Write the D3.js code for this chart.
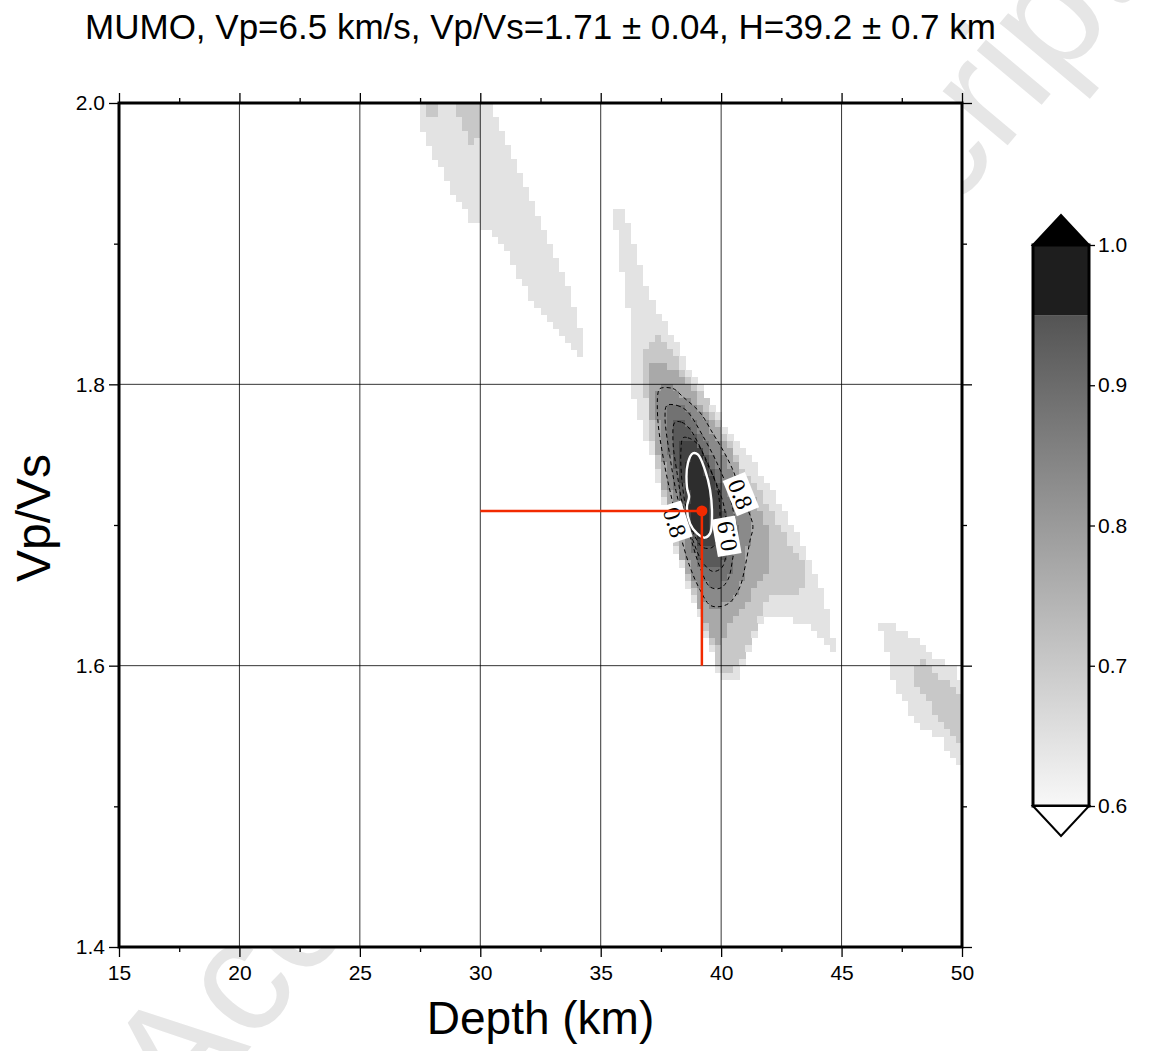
<!DOCTYPE html>
<html>
<head>
<meta charset="utf-8">
<script src="https://cdn.jsdelivr.net/npm/d3@7"></script>
<style>
  body { margin: 0; background: #fff; }
  text { font-family: "Liberation Sans", Arial, Helvetica, sans-serif; }
</style>
</head>
<body>
<svg id="chart" width="1150" height="1051"></svg>
<script>

// ---- data ----
var stationName = "MUMO";
var vpValue = 6.5;
var bestH = 39.2, errH = 0.7;
var bestK = 1.71, errK = 0.04;

var depthDomain = [15, 50];
var vpvsDomain = [1.4, 2.0];
var depthTicks = [15, 20, 25, 30, 35, 40, 45, 50];
var depthMinor = [17.5, 22.5, 27.5, 32.5, 37.5, 42.5, 47.5];
var vpvsTicks = [1.4, 1.6, 1.8, 2.0];
var vpvsMinor = [1.5, 1.7, 1.9];
var depthGrid = [20, 25, 30, 35, 40, 45];
var vpvsGrid = [1.6, 1.8];
var gridStepH = 0.25, gridStepK = 0.005;   // search grid spacing (km, Vp/Vs)

var cbTicks = [0.6, 0.7, 0.8, 0.9, 1.0];
var cbBreak = 0.95;

// stack amplitude bands (depth km, Vp/Vs) -- outlines of each grey level
var bandNW = [[27.33,2.005],[27.50,1.988],[27.91,1.970],[28.66,1.942],[29.57,1.917],[30.20,1.908],[30.69,1.907],[31.03,1.896],[31.65,1.874],[32.48,1.853],[33.31,1.835],[34.06,1.822],[34.31,1.821],[34.35,1.823],[34.22,1.835],[33.97,1.849],[33.64,1.867],[33.23,1.885],[32.81,1.903],[32.48,1.917],[31.94,1.938],[31.44,1.956],[31.03,1.974],[30.69,1.988],[30.40,2.000],[30.35,2.005]];
var bandNWpatchA = [[27.75,2.005],[28.20,2.005],[28.20,1.987],[27.83,1.987]];
var bandNWpatchB = [[28.95,2.005],[29.95,2.005],[29.95,1.972],[29.49,1.972],[29.24,1.984]];

var bandSE = [[46.59,1.627],[46.68,1.632],[47.22,1.632],[47.22,1.627],[47.72,1.622],[48.17,1.617],[48.59,1.611],[48.96,1.606],[49.29,1.603],[49.58,1.601],[49.83,1.592],[50.3,1.590],[50.3,1.530],[49.92,1.532],[49.71,1.533],[49.42,1.541],[49.09,1.549],[48.75,1.552],[48.34,1.558],[47.84,1.567],[47.43,1.578],[47.14,1.591],[47.01,1.599],[46.80,1.613]];
var bandSEcore = [[47.96,1.596],[48.05,1.602],[48.67,1.602],[48.67,1.598],[49.09,1.592],[49.50,1.588],[49.79,1.581],[49.92,1.576],[50.3,1.574],[50.3,1.537],[49.92,1.541],[49.71,1.549],[49.38,1.556],[48.96,1.565],[48.55,1.576],[48.17,1.585]];

var mainL0 = [[35.55,1.928],[35.88,1.928],[36.22,1.910],[36.55,1.888],[36.88,1.871],[37.05,1.860],[37.50,1.848],[38.25,1.824],[38.96,1.801],[39.70,1.782],[40.45,1.765],[41.49,1.741],[42.53,1.713],[43.27,1.689],[43.86,1.666],[44.31,1.647],[44.60,1.623],[44.69,1.608],[43.73,1.629],[42.98,1.632],[42.24,1.637],[41.78,1.635],[41.36,1.623],[40.91,1.602],[40.66,1.588],[40.08,1.588],[39.58,1.611],[38.96,1.647],[38.37,1.675],[37.63,1.718],[37.05,1.753],[36.46,1.782],[36.17,1.810],[36.22,1.839],[36.05,1.867],[35.80,1.888],[35.63,1.910]];
var mainL1 = [[37.34,1.835],[38.08,1.819],[38.83,1.801],[39.58,1.782],[40.33,1.760],[40.91,1.741],[41.49,1.727],[42.44,1.700],[42.98,1.684],[43.48,1.670],[43.48,1.652],[42.69,1.652],[41.95,1.647],[41.49,1.629],[40.91,1.602],[40.28,1.593],[39.87,1.599],[39.70,1.618],[39.29,1.652],[38.83,1.680],[38.25,1.718],[37.79,1.746],[37.34,1.782],[37.09,1.796],[36.88,1.812],[36.84,1.828]];
var mainL2 = [[37.46,1.817],[38.21,1.807],[38.91,1.792],[39.62,1.775],[40.24,1.757],[40.78,1.739],[41.28,1.721],[41.82,1.704],[42.11,1.686],[42.03,1.672],[41.70,1.661],[41.28,1.650],[40.78,1.640],[40.37,1.629],[40.12,1.618],[39.79,1.615],[39.45,1.622],[39.12,1.640],[38.62,1.661],[38.08,1.689],[37.67,1.718],[37.34,1.746],[37.05,1.775],[36.88,1.803],[36.96,1.814]];

// contours 0.80, 0.85, 0.90, 0.95 and the best-fit (white) contour
var contour80 = [[37.46,1.797],[38.00,1.797],[38.42,1.791],[39.12,1.780],[39.66,1.765],[40.08,1.753],[40.49,1.739],[40.78,1.725],[41.11,1.711],[41.32,1.699],[41.20,1.689],[40.99,1.670],[40.78,1.656],[40.37,1.645],[39.95,1.642],[39.54,1.643],[39.12,1.654],[38.71,1.670],[38.29,1.694],[37.96,1.718],[37.67,1.741],[37.38,1.773],[37.38,1.794]];
var contour85 = [[37.75,1.785],[38.17,1.785],[38.58,1.781],[39.25,1.763],[39.83,1.744],[40.24,1.727],[40.49,1.711],[40.66,1.694],[40.49,1.677],[40.28,1.661],[39.95,1.655],[39.54,1.656],[39.12,1.670],[38.71,1.692],[38.21,1.718],[37.88,1.748],[37.67,1.777]];
var contour90 = [[38.08,1.773],[38.37,1.773],[38.71,1.768],[39.25,1.751],[39.74,1.732],[40.08,1.716],[40.24,1.699],[40.24,1.684],[40.04,1.670],[39.66,1.667],[39.25,1.673],[38.83,1.689],[38.42,1.713],[38.17,1.737],[38.00,1.760]];
var contour95 = [[38.42,1.762],[38.62,1.762],[39.00,1.758],[39.41,1.744],[39.83,1.727],[39.95,1.709],[39.87,1.692],[39.62,1.684],[39.25,1.684],[38.91,1.692],[38.58,1.709],[38.37,1.732],[38.33,1.753]];
var contourBest = [[38.83,1.751],[39.04,1.750],[39.33,1.739],[39.54,1.725],[39.62,1.706],[39.54,1.694],[39.33,1.691],[39.00,1.694],[38.71,1.701],[38.58,1.713],[38.67,1.720],[38.58,1.727],[38.62,1.744]];

var levelShades = ["#e3e3e3", "#c8c8c8", "#a9a9a9", "#8a8a8a", "#727272", "#5a5a5a", "#434343", "#2d2d2d"];

var contourLabels = [
  {text: "0.8", at: [38.10, 1.702], angle: 72},
  {text: "0.8", at: [40.82, 1.722], angle: 68},
  {text: "0.9", at: [40.22, 1.692], angle: -100}
];

// ---- drawing ----
var svg = d3.select("#chart");

var x = d3.scaleLinear().domain(depthDomain).range([119, 962]);
var y = d3.scaleLinear().domain(vpvsDomain).range([947, 103]);

// watermark (sits behind everything)
svg.append("text")
  .attr("transform", "translate(183,1128) rotate(-50)")
  .attr("font-size", 160)
  .attr("fill", "#e6e6e6")
  .text("Accepted Manuscript");

svg.append("rect")
  .attr("x", x(15)).attr("y", y(2.0))
  .attr("width", x(50) - x(15)).attr("height", y(1.4) - y(2.0))
  .attr("fill", "#fff");

svg.append("clipPath").attr("id", "plotclip")
  .append("rect")
  .attr("x", x(15)).attr("y", y(2.0))
  .attr("width", x(50) - x(15)).attr("height", y(1.4) - y(2.0));

var fills = [
  {ring: bandNW, lvl: 0, smooth: false},
  {ring: bandSE, lvl: 0, smooth: false},
  {ring: mainL0, lvl: 0, smooth: false},
  {ring: bandNWpatchA, lvl: 1, smooth: false},
  {ring: bandNWpatchB, lvl: 1, smooth: false},
  {ring: bandSEcore, lvl: 1, smooth: false},
  {ring: mainL1, lvl: 1, smooth: false},
  {ring: mainL2, lvl: 2, smooth: false},
  {ring: contour80, lvl: 3, smooth: true},
  {ring: contour85, lvl: 4, smooth: true},
  {ring: contour90, lvl: 5, smooth: true},
  {ring: contour95, lvl: 6, smooth: true},
  {ring: contourBest, lvl: 7, smooth: true}
];

// rasterise the level outlines onto the search grid (like grdimage does)
var nx = Math.round((depthDomain[1] - depthDomain[0]) / gridStepH);
var ny = Math.round((vpvsDomain[1] - vpvsDomain[0]) / gridStepK);
var canvas = document.createElement("canvas");
canvas.width = nx; canvas.height = ny;
var ctx = canvas.getContext("2d");
ctx.fillStyle = "#fff";
ctx.fillRect(0, 0, nx, ny);
var cx = d3.scaleLinear().domain(depthDomain).range([0, nx]);
var cy = d3.scaleLinear().domain(vpvsDomain).range([ny, 0]);
var cLine = d3.line().x(function(d) { return cx(d[0]); }).y(function(d) { return cy(d[1]); })
  .curve(d3.curveLinearClosed).context(ctx);
var cSmooth = d3.line().x(function(d) { return cx(d[0]); }).y(function(d) { return cy(d[1]); })
  .curve(d3.curveCatmullRomClosed.alpha(0.5)).context(ctx);
fills.forEach(function(f) {
  ctx.beginPath();
  (f.smooth ? cSmooth : cLine)(f.ring);
  ctx.fillStyle = levelShades[f.lvl];
  ctx.fill();
});
var pix = ctx.getImageData(0, 0, nx, ny).data;
var greys = levelShades.map(function(c) { return d3.rgb(c).r; });
var cells = [];
for (var j = 0; j < ny; j++) {
  for (var i = 0; i < nx; i++) {
    var v = pix[(j * nx + i) * 4];
    var best = -1, bd = 255 - v;
    greys.forEach(function(gv, k) {
      if (Math.abs(gv - v) < bd) { bd = Math.abs(gv - v); best = k; }
    });
    if (best >= 0) {
      cells.push({h: depthDomain[0] + i * gridStepH, k: vpvsDomain[1] - (j + 1) * gridStepK, lvl: best});
    }
  }
}

var g = svg.append("g").attr("clip-path", "url(#plotclip)");

g.append("g")
  .attr("shape-rendering", "crispEdges")
  .selectAll("rect")
  .data(cells)
  .enter().append("rect")
  .attr("x", function(d) { return x(d.h); })
  .attr("y", function(d) { return y(d.k + gridStepK); })
  .attr("width", function(d) { return x(d.h + gridStepH) - x(d.h) + 0.6; })
  .attr("height", function(d) { return y(d.k) - y(d.k + gridStepK) + 0.6; })
  .attr("fill", function(d) { return levelShades[d.lvl]; });

// grid
g.selectAll("line.gx")
  .data(depthGrid)
  .enter().append("line")
  .attr("x1", function(d) { return x(d); }).attr("x2", function(d) { return x(d); })
  .attr("y1", y(1.4)).attr("y2", y(2.0))
  .attr("stroke", "#000").attr("stroke-width", 0.8);
g.selectAll("line.gy")
  .data(vpvsGrid)
  .enter().append("line")
  .attr("y1", function(d) { return y(d); }).attr("y2", function(d) { return y(d); })
  .attr("x1", x(15)).attr("x2", x(50))
  .attr("stroke", "#000").attr("stroke-width", 0.8);

var smoothLine = d3.line()
  .x(function(d) { return x(d[0]); })
  .y(function(d) { return y(d[1]); })
  .curve(d3.curveCatmullRomClosed.alpha(0.5));

// dashed contours
g.selectAll("path.contour")
  .data([contour80, contour85, contour90, contour95])
  .enter().append("path")
  .attr("d", smoothLine)
  .attr("fill", "none")
  .attr("stroke", "#000")
  .attr("stroke-width", 1)
  .attr("stroke-dasharray", "4,3");

g.append("path")
  .attr("d", smoothLine(contourBest))
  .attr("fill", "none")
  .attr("stroke", "#fff")
  .attr("stroke-width", 2.4);

// contour labels
var lab = g.selectAll("g.clab")
  .data(contourLabels)
  .enter().append("g")
  .attr("transform", function(d) {
    return "translate(" + x(d.at[0]) + "," + y(d.at[1]) + ") rotate(" + d.angle + ")";
  });
lab.append("rect")
  .attr("x", -19).attr("y", -12).attr("width", 38).attr("height", 24)
  .attr("fill", "#fff");
lab.append("text")
  .attr("text-anchor", "middle")
  .attr("dy", "0.36em")
  .style("font-family", "'Liberation Serif', 'DejaVu Serif', serif")
  .attr("font-size", 24)
  .text(function(d) { return d.text; });

// best estimate
g.append("line")
  .attr("x1", x(30)).attr("x2", x(bestH))
  .attr("y1", y(bestK)).attr("y2", y(bestK))
  .attr("stroke", "#f22a00").attr("stroke-width", 2.5);
g.append("line")
  .attr("x1", x(bestH)).attr("x2", x(bestH))
  .attr("y1", y(bestK)).attr("y2", y(1.6))
  .attr("stroke", "#f22a00").attr("stroke-width", 2.5);
g.append("circle")
  .attr("cx", x(bestH)).attr("cy", y(bestK)).attr("r", 5.5)
  .attr("fill", "#f22a00");

// axes: ticks on all four sides, labels on W and S
function styleAxis(sel) {
  sel.select(".domain").remove();
  sel.selectAll(".tick line").attr("stroke", "#000").attr("stroke-width", 1.3);
  sel.selectAll(".tick text").attr("font-size", 21).attr("fill", "#000")
    .style("font-family", "'Liberation Sans', Arial, sans-serif");
}
svg.append("g").attr("transform", "translate(0," + y(1.4) + ")")
  .call(d3.axisBottom(x).tickValues(depthTicks).tickSize(10).tickPadding(8).tickFormat(d3.format("d")))
  .call(styleAxis);
svg.append("g").attr("transform", "translate(0," + y(1.4) + ")")
  .call(d3.axisBottom(x).tickValues(depthMinor).tickSize(5).tickFormat(""))
  .call(styleAxis);
svg.append("g").attr("transform", "translate(0," + y(2.0) + ")")
  .call(d3.axisTop(x).tickValues(depthTicks).tickSize(10).tickFormat(""))
  .call(styleAxis);
svg.append("g").attr("transform", "translate(0," + y(2.0) + ")")
  .call(d3.axisTop(x).tickValues(depthMinor).tickSize(5).tickFormat(""))
  .call(styleAxis);
svg.append("g").attr("transform", "translate(" + x(15) + ",0)")
  .call(d3.axisLeft(y).tickValues(vpvsTicks).tickSize(10).tickPadding(4).tickFormat(d3.format(".1f")))
  .call(styleAxis);
svg.append("g").attr("transform", "translate(" + x(15) + ",0)")
  .call(d3.axisLeft(y).tickValues(vpvsMinor).tickSize(5).tickFormat(""))
  .call(styleAxis);
svg.append("g").attr("transform", "translate(" + x(50) + ",0)")
  .call(d3.axisRight(y).tickValues(vpvsTicks).tickSize(10).tickFormat(""))
  .call(styleAxis);
svg.append("g").attr("transform", "translate(" + x(50) + ",0)")
  .call(d3.axisRight(y).tickValues(vpvsMinor).tickSize(5).tickFormat(""))
  .call(styleAxis);

// frame
svg.append("rect")
  .attr("x", x(15)).attr("y", y(2.0))
  .attr("width", x(50) - x(15)).attr("height", y(1.4) - y(2.0))
  .attr("fill", "none").attr("stroke", "#000").attr("stroke-width", 3);

// titles
svg.append("text")
  .attr("x", (x(15) + x(50)) / 2).attr("y", 39)
  .attr("text-anchor", "middle").attr("font-size", 35)
  .text(stationName + ", Vp=" + vpValue + " km/s, Vp/Vs=" + bestK + " \u00b1 " + errK.toFixed(2) +
        ", H=" + bestH + " \u00b1 " + errH + " km");
svg.append("text")
  .attr("x", (x(15) + x(50)) / 2).attr("y", 1034)
  .attr("text-anchor", "middle").attr("font-size", 46)
  .text("Depth (km)");
svg.append("text")
  .attr("transform", "translate(50," + y(1.705) + ") rotate(-90)")
  .attr("text-anchor", "middle").attr("font-size", 48)
  .text("Vp/Vs");

// colour bar
var cb = d3.scaleLinear().domain([0.6, 1.0]).range([806, 245]);
var cbX0 = 1033, cbX1 = 1089;
var shade = d3.scaleLinear().domain([0.6, cbBreak]).range(["#f8f8f8", "#545454"]);

var grad = svg.append("defs").append("linearGradient")
  .attr("id", "cbgrad").attr("x1", 0).attr("x2", 0).attr("y1", 1).attr("y2", 0);
grad.selectAll("stop")
  .data([0.6, cbBreak])
  .enter().append("stop")
  .attr("offset", function(d, i) { return i; })
  .attr("stop-color", function(d) { return shade(d); });

svg.append("rect")
  .attr("x", cbX0).attr("y", cb(cbBreak))
  .attr("width", cbX1 - cbX0).attr("height", cb(0.6) - cb(cbBreak))
  .attr("fill", "url(#cbgrad)");
svg.append("rect")
  .attr("x", cbX0).attr("y", cb(1.0))
  .attr("width", cbX1 - cbX0).attr("height", cb(cbBreak) - cb(1.0))
  .attr("fill", "#1e1e1e");
svg.append("rect")
  .attr("x", cbX0).attr("y", cb(1.0))
  .attr("width", cbX1 - cbX0).attr("height", cb(0.6) - cb(1.0))
  .attr("fill", "none").attr("stroke", "#000").attr("stroke-width", 3);

var cbMid = (cbX0 + cbX1) / 2;
svg.append("path")
  .attr("d", "M" + cbX0 + "," + cb(1.0) + "L" + cbMid + "," + (cb(1.0) - 30) + "L" + cbX1 + "," + cb(1.0) + "Z")
  .attr("fill", "#000").attr("stroke", "#000").attr("stroke-width", 2);
svg.append("path")
  .attr("d", "M" + cbX0 + "," + cb(0.6) + "L" + cbMid + "," + (cb(0.6) + 30) + "L" + cbX1 + "," + cb(0.6) + "Z")
  .attr("fill", "#fff").attr("stroke", "#000").attr("stroke-width", 2);

svg.append("g").attr("transform", "translate(" + cbX1 + ",0)")
  .call(d3.axisRight(cb).tickValues(cbTicks).tickSize(6).tickPadding(3).tickFormat(d3.format(".1f")))
  .call(styleAxis);

</script>
</body>
</html>
